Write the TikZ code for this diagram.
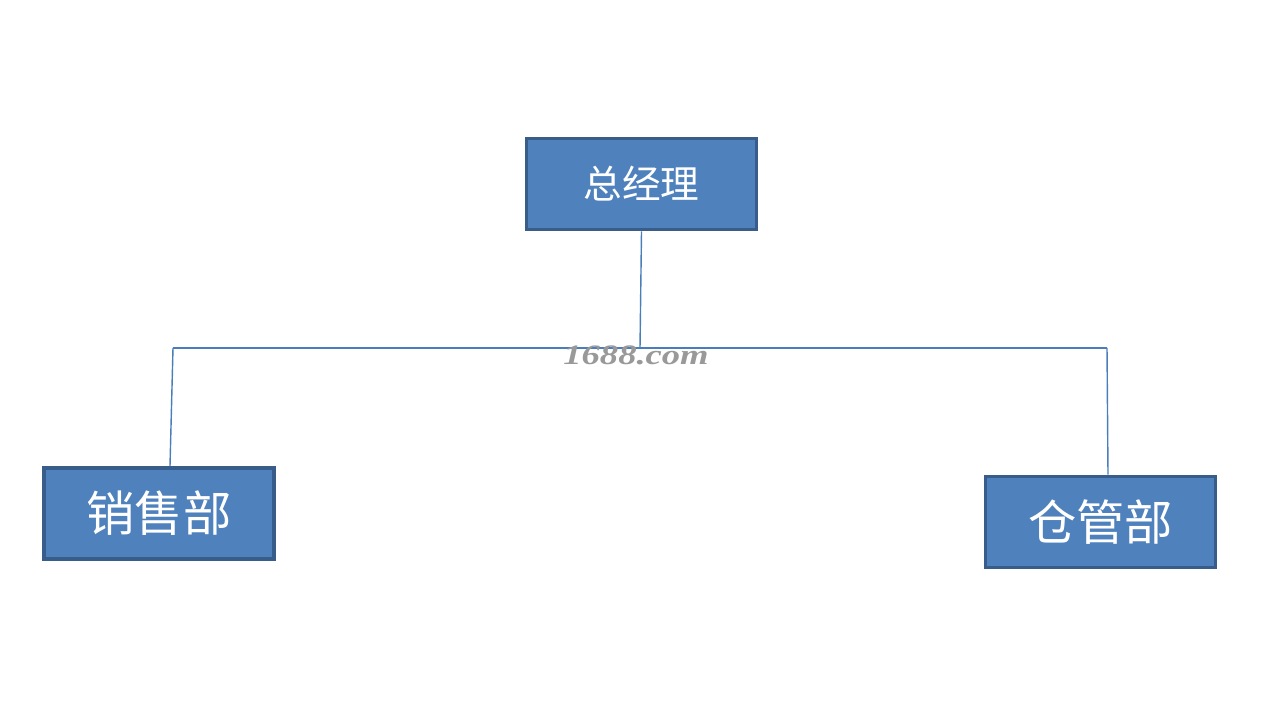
\documentclass[tikz,border=0pt]{standalone}
\usepackage{fontspec}
\newfontfamily\cjk{Noto Sans CJK SC}
\newfontfamily\markfont{Liberation Serif}
\usepackage{tikz}
\usetikzlibrary{positioning}

\definecolor{boxblue}{HTML}{4F81BD}
\definecolor{boxedge}{HTML}{385D8A}
\definecolor{linkblue}{HTML}{4A7EBB}

\begin{document}
\begin{tikzpicture}[
  x=0.02cm, y=-0.02cm,
  post/.style={rectangle, draw=boxedge, fill=boxblue, line width=2.2pt, text=white, align=center, minimum width=4.6cm, minimum height=1.82cm, inner sep=0pt},
  link/.style={draw=linkblue, line width=0.8pt}
]
\useasboundingbox (0,0) rectangle (1271,706);
\node[post, font=\cjk\fontsize{22}{26}\selectfont] (gm) at (641.5,184) {总经理};
\node[post, font=\cjk\fontsize{27.5}{32}\selectfont] (sales) at (159,513.5) {销售部};
\node[post, font=\cjk\fontsize{27.5}{32}\selectfont] (store) at (1100.5,522) {仓管部};

\coordinate (mid) at (640,348);
\coordinate (left) at (173,348);
\coordinate (right) at (1107,348);
\coordinate (salesdrop) at (170,0);
\coordinate (storedrop) at (1108,0);

\draw[link] (gm.south) -- (mid);
\draw[link] (left) -- (right);
\draw[link] (left) -- (salesdrop |- sales.north);
\draw[link] (right) -- (storedrop |- store.north);

% watermark
\node[text=black!40, xscale=1.3, font=\markfont\bfseries\itshape\fontsize{16}{18}\selectfont] (mark) at (636,355) {1688.com};
\end{tikzpicture}
\end{document}
